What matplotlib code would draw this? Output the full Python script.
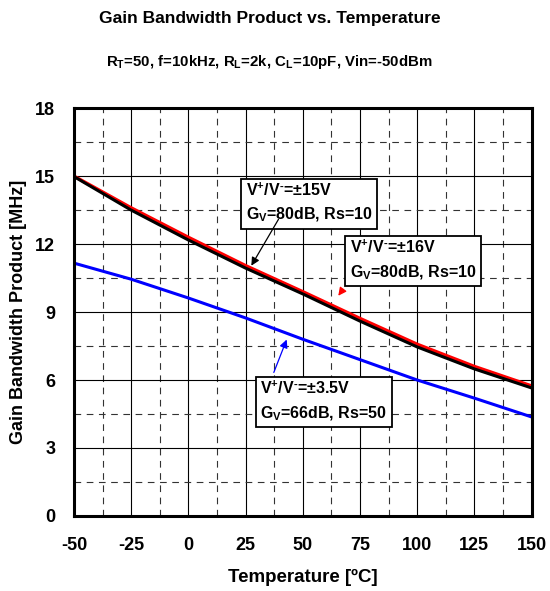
import matplotlib
matplotlib.use("Agg")
import matplotlib.pyplot as plt
import numpy as np

plt.rcParams['font.family'] = ['Liberation Sans', 'DejaVu Sans']
plt.rcParams['font.weight'] = 'bold'
plt.rcParams['axes.unicode_minus'] = False
plt.rcParams['mathtext.fontset'] = 'custom'
plt.rcParams['mathtext.rm'] = 'Liberation Sans:bold'
plt.rcParams['mathtext.it'] = 'Liberation Sans:bold'
plt.rcParams['mathtext.bf'] = 'Liberation Sans:bold'

# data
temp = [-50, -25, 0, 25, 50, 75, 100, 125, 150]
gbw_16v = [15.0, 13.6, 12.3, 11.05, 9.9, 8.72, 7.58, 6.6, 5.74]
gbw_15v = [14.98, 13.5, 12.18, 10.94, 9.8, 8.6, 7.46, 6.49, 5.65]
gbw_35v = [11.16, 10.45, 9.62, 8.74, 7.8, 6.9, 6.0, 5.2, 4.37]

xticks = [-50, -25, 0, 25, 50, 75, 100, 125, 150]
yticks = [0, 3, 6, 9, 12, 15, 18]

fig = plt.figure(figsize=(5.5, 5.91), dpi=100)
ax = fig.add_axes([0.1345, 0.127, 0.832, 0.69])

ax.plot(temp, gbw_16v, color='#ff0000', lw=2.4, solid_capstyle='butt', zorder=3)
ax.plot(temp, gbw_15v, color='black', lw=2.2, solid_capstyle='butt', zorder=4)
ax.plot(temp, gbw_35v, color='#0000ff', lw=2.2, solid_capstyle='butt', zorder=3)

ax.set_xlim(-50, 150)
ax.set_ylim(0, 18)
ax.set_xticks(xticks)
ax.set_yticks(yticks)
ax.set_xticks(np.arange(-37.5, 150, 25), minor=True)
ax.set_yticks(np.arange(1.5, 18, 3), minor=True)
ax.grid(which='major', color='black', lw=0.8, ls='-')
ax.grid(which='minor', color='#333333', lw=0.8, ls=(0, (6, 5)))
ax.tick_params(which='both', length=0)
ax.tick_params(axis='x', pad=15, labelsize=13)
ax.tick_params(axis='y', pad=13.5, labelsize=13)
for lab in ax.get_xticklabels() + ax.get_yticklabels():
    lab.set_fontweight('bold')
for s in ax.spines.values():
    s.set_linewidth(2.2)
    s.set_zorder(6)

ax.set_xlabel('Temperature [ºC]', fontsize=13.5, fontweight='bold', labelpad=11)
ax.set_ylabel('Gain Bandwidth Product [MHz]', fontsize=13, fontweight='bold', labelpad=6)

fig.text(0.49, 0.968, 'Gain Bandwidth Product vs. Temperature', ha='center', va='center',
         fontsize=12.5, fontweight='bold')
fig.text(0.49, 0.895, r'R$_{T}$=50, f=10kHz, R$_{L}$=2k, C$_{L}$=10pF, Vin=-50dBm',
         ha='center', va='center', fontsize=10.8, fontweight='bold')

box = dict(boxstyle='square,pad=0.3', fc='white', ec='black', lw=1.3)
sup = r'V$^{+}$/V$^{\text{-}}$'
ax.text(25.1, 14.75, sup + '=±15V\nG$_{V}$=80dB, Rs=10', ha='left', va='top',
        fontsize=11.5, fontweight='bold', bbox=box, zorder=7, linespacing=1.5)
ax.text(70.5, 12.22, sup + '=±16V\nG$_{V}$=80dB, Rs=10', ha='left', va='top',
        fontsize=11.5, fontweight='bold', bbox=box, zorder=7, linespacing=1.5)
ax.text(31.5, 6.0, sup + '=±3.5V\nG$_{V}$=66dB, Rs=50', ha='left', va='top',
        fontsize=11.5, fontweight='bold', bbox=box, zorder=7, linespacing=1.5)

ax.annotate('', xy=(26.9, 10.94), xytext=(40.0, 13.2),
            arrowprops=dict(arrowstyle='-|>', color='black', lw=0.9, mutation_scale=12), zorder=8)
ax.annotate('', xy=(64.8, 9.62), xytext=(68.3, 10.1),
            arrowprops=dict(arrowstyle='-|>', color='#ff0000', lw=0.9, mutation_scale=12), zorder=8)
ax.annotate('', xy=(43.4, 7.9), xytext=(36.9, 6.22),
            arrowprops=dict(arrowstyle='-|>', color='#0000ff', lw=0.9, mutation_scale=12), zorder=8)

fig.savefig('out.png', dpi=100)
